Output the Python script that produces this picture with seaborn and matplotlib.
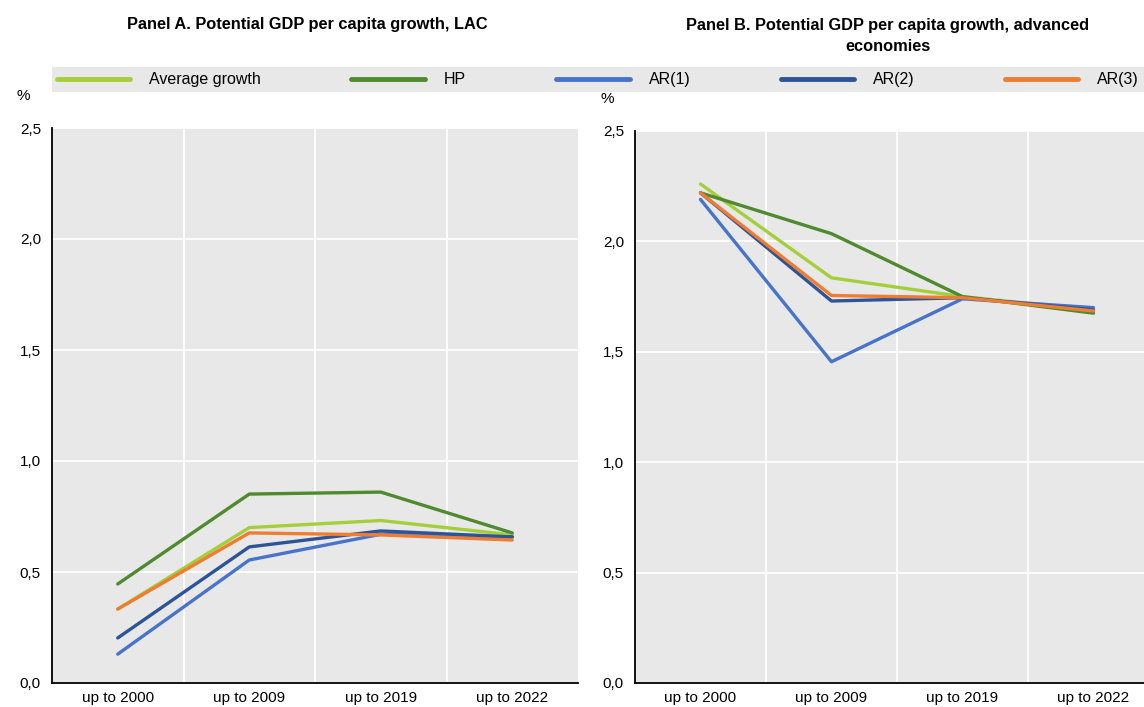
import pandas as pd
import matplotlib
matplotlib.use('Agg')
import matplotlib.pyplot as plt
import seaborn as sns
from matplotlib.ticker import FuncFormatter, FixedLocator

# Data
periods = ['up to 2000', 'up to 2009', 'up to 2019', 'up to 2022']
series_names = ['Average growth', 'HP', 'AR(1)', 'AR(2)', 'AR(3)']

lac_avg = [0.333, 0.70, 0.732, 0.667]
lac_hp = [0.446, 0.851, 0.860, 0.676]
lac_ar1 = [0.130, 0.554, 0.670, 0.658]
lac_ar2 = [0.203, 0.613, 0.685, 0.658]
lac_ar3 = [0.333, 0.676, 0.667, 0.644]

adv_avg = [2.26, 1.835, 1.75, 1.69]
adv_hp = [2.22, 2.035, 1.75, 1.675]
adv_ar1 = [2.19, 1.455, 1.74, 1.70]
adv_ar2 = [2.22, 1.73, 1.745, 1.69]
adv_ar3 = [2.22, 1.755, 1.745, 1.685]

colors = ['#a5cf3a', '#4f8a2f', '#4774c8', '#2d5496', '#ee7d31']

sns.set_theme(style='white')
plt.rcParams['font.family'] = ['Liberation Sans Narrow', 'Liberation Sans', 'DejaVu Sans']
plt.rcParams['text.color'] = 'black'


def make_frame(values):
    rows = []
    for name, vals in zip(series_names, values):
        for i, (p, v) in enumerate(zip(periods, vals)):
            rows.append({'period': p, 'pos': i, 'series': name, 'value': v})
    return pd.DataFrame(rows)


lac = make_frame([lac_avg, lac_hp, lac_ar1, lac_ar2, lac_ar3])
adv = make_frame([adv_avg, adv_hp, adv_ar1, adv_ar2, adv_ar3])

fig = plt.figure(figsize=(11.44, 7.07), dpi=100)
ax1 = fig.add_axes([52 / 1144, 24 / 707, 526 / 1144, 555 / 707])
ax2 = fig.add_axes([635 / 1144, 24 / 707, 509 / 1144, 552 / 707])

comma = FuncFormatter(lambda v, _: f'{v:.1f}'.replace('.', ','))

for ax, df, xmax in [(ax1, lac, 3.5), (ax2, adv, -0.5 + 509 / 131)]:
    ax.set_facecolor('#e8e8e8')
    sns.lineplot(data=df, x='pos', y='value', hue='series', hue_order=series_names,
                 palette=colors, linewidth=2.4, ax=ax, legend=False, sort=False)
    ax.set_xlim(-0.5, xmax)
    ax.set_ylim(0, 2.5)
    ax.set_yticks([0, 0.5, 1.0, 1.5, 2.0, 2.5])
    ax.yaxis.set_major_formatter(comma)
    ax.set_xticks(range(len(periods)))
    ax.set_xticklabels(periods)
    ax.xaxis.set_minor_locator(FixedLocator([0.5, 1.5, 2.5]))
    ax.grid(axis='y', which='major', color='white', linewidth=1.3)
    ax.grid(axis='x', which='minor', color='white', linewidth=1.3)
    ax.set_axisbelow(True)
    ax.set_xlabel('')
    ax.set_ylabel('')
    for s in ['top', 'right']:
        ax.spines[s].set_visible(False)
    for s in ['left', 'bottom']:
        ax.spines[s].set_color('black')
        ax.spines[s].set_linewidth(1.3)
    ax.tick_params(axis='x', which='major', length=0, labelsize=11, pad=6, colors='black')
    ax.tick_params(axis='x', which='minor', direction='in', length=4, width=1.2, color='black')
    ax.tick_params(axis='y', direction='in', length=4, width=1.2, labelsize=11, pad=8, colors='black')
    ax.text(-0.055, 1.045, '%', transform=ax.transAxes,
            fontsize=11, ha='center', va='bottom')

fig.text(307 / 1144, 1 - 25 / 707, 'Panel A. Potential GDP per capita growth, LAC',
         fontsize=11.8, fontweight='bold', ha='center', va='center')
fig.text(888 / 1144, 1 - 36 / 707, 'Panel B. Potential GDP per capita growth, advanced\neconomies',
         fontsize=11.8, fontweight='bold', ha='center', va='center', linespacing=1.45)

# Legend band across the top
handles = [plt.Line2D([], [], color=c, linewidth=3.5) for c in colors]
fig.legend(handles, series_names, loc='lower left', ncol=5, mode='expand',
           bbox_to_anchor=(52 / 1144, 1 - 92 / 707, 1 - 52 / 1144, 28 / 707),
           frameon=True, facecolor='#e8e8e8', edgecolor='none', fancybox=False,
           framealpha=1, fontsize=11.5, handlelength=4.6, handletextpad=1.2,
           borderpad=0.3, borderaxespad=0)

fig.savefig('out.png', dpi=100)
